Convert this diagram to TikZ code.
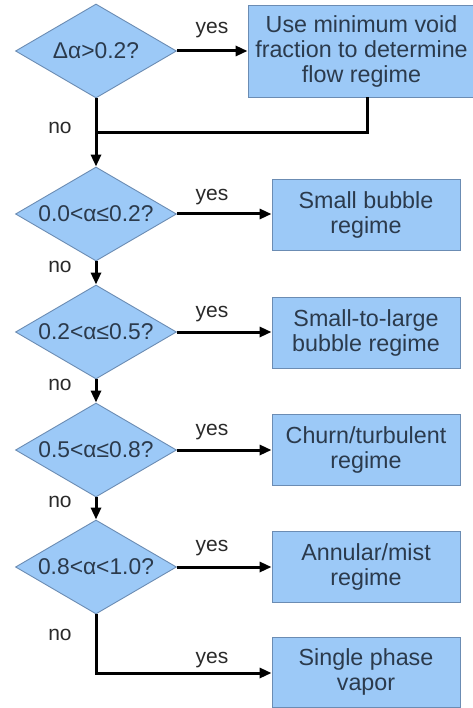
\documentclass[tikz,border=0pt]{standalone}
\usepackage{fontspec}
\setmainfont{Liberation Sans}
\usetikzlibrary{shapes.geometric,arrows.meta}
\definecolor{shapefill}{HTML}{9CC9F7}
\definecolor{shapeedge}{HTML}{6B8CB3}
\definecolor{shapetext}{HTML}{2B3A4C}
\definecolor{labeltext}{HTML}{2A2A2A}
\tikzset{
  decision/.style={diamond, aspect=1.72, draw=shapeedge, fill=shapefill, line width=0.9pt,
    minimum width=161pt, minimum height=94pt, inner sep=0pt, text=shapetext,
    font=\fontsize{22.8}{25}\selectfont},
  regime/.style={rectangle, draw=shapeedge, fill=shapefill, line width=0.9pt,
    minimum width=188pt, minimum height=71pt, inner sep=0pt, text=shapetext,
    align=center, font=\fontsize{23.3}{25}\selectfont},
  lbl/.style={text=labeltext, font=\fontsize{21}{24}\selectfont, inner sep=0pt},
  conn/.style={line width=3pt, draw=black},
  arr/.style={conn, -{Triangle[length=12pt,width=10pt]}}
}
\begin{document}
\begin{tikzpicture}[x=1pt,y=-1pt]
\useasboundingbox[fill=white] (0,0) rectangle (472,708);
% decisions
\node[decision] (d1) at (96,51) {Δα>0.2?};
\node[decision] (d2) at (96,214) {0.0<α≤0.2?};
\node[decision] (d3) at (96,332) {0.2<α≤0.5?};
\node[decision] (d4) at (96,450) {0.5<α≤0.8?};
\node[decision] (d5) at (96,567) {0.8<α<1.0?};
% boxes
\node[regime, minimum width=227pt, minimum height=92pt] (b1) at (361.5,51)
  {Use minimum void\\fraction to determine\\flow regime};
\node[regime] (b2) at (366,215) {Small bubble\\regime};
\node[regime] (b3) at (366,333) {Small-to-large\\bubble regime};
\node[regime] (b4) at (366,450) {Churn/turbulent\\regime};
\node[regime] (b5) at (366,567) {Annular/mist\\regime};
\node[regime, minimum height=70pt] (b6) at (366,672) {Single phase\\vapor};
% helper coordinates
\coordinate (j1) at (96,133);
\coordinate (c1) at (367,133);
\coordinate (j5) at (96,673);
% connectors
\draw[arr] (d1.east) -- (b1.west);
\draw[arr] (d1.south) -- (d2.north);
\draw[conn] (b1.south -| c1) -- (c1) -- (j1);
\draw[arr] (d2.east) -- (d2.east -| b2.west);
\draw[arr] (d3.east) -- (d3.east -| b3.west);
\draw[arr] (d4.east) -- (d4.east -| b4.west);
\draw[arr] (d5.east) -- (d5.east -| b5.west);
\draw[arr] (d2.south) -- (d3.north);
\draw[arr] (d3.south) -- (d4.north);
\draw[arr] (d4.south) -- (d5.north);
\draw[arr] (d5.south) -- (j5) -- (j5 -| b6.west);
% labels
\node[lbl] (y1) at (212,30) {yes};
\node[lbl] (y2) at (212,197) {yes};
\node[lbl] (y3) at (212,314) {yes};
\node[lbl] (y4) at (212,432) {yes};
\node[lbl] (y5) at (212,548) {yes};
\node[lbl] (y6) at (212,660) {yes};
\node[lbl] (n1) at (60,128) {no};
\node[lbl] (n2) at (60,267) {no};
\node[lbl] (n3) at (60,385) {no};
\node[lbl] (n4) at (60,502) {no};
\node[lbl] (n5) at (60,635) {no};
\end{tikzpicture}
\end{document}
